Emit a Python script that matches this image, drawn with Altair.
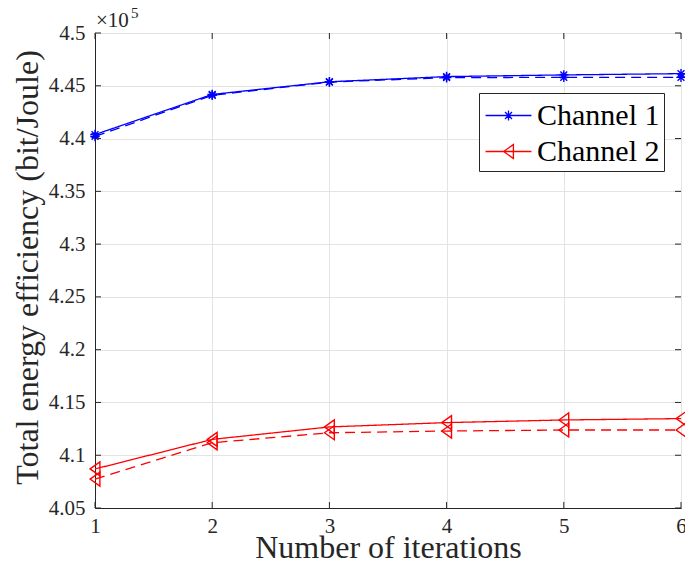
import altair as alt
import pandas as pd

# Iteration index on the x axis
iterations = [1, 2, 3, 4, 5, 6]

# Total energy efficiency (bit/Joule) per iteration
ch1_solid = [440380, 444180, 445380, 445870, 446030, 446150]
ch1_dashed = [440200, 444100, 445350, 445770, 445800, 445800]
ch2_solid = [408700, 411500, 412680, 413090, 413340, 413470]
ch2_dashed = [407740, 411180, 412130, 412290, 412390, 412390]

series_names = ["Channel 1", "Channel 2"]
series_colors = ["#0000ff", "#ff0000"]

x_ticks = [1, 2, 3, 4, 5, 6]
y_ticks = [405000, 410000, 415000, 420000, 425000, 430000,
           435000, 440000, 445000, 450000]

W, H = 586, 475
FONT = "Liberation Serif"
AXIS_COLOR = "#262626"

rows = []
for name, style, vals in [
    ("Channel 1", "solid", ch1_solid),
    ("Channel 1", "dashed", ch1_dashed),
    ("Channel 2", "solid", ch2_solid),
    ("Channel 2", "dashed", ch2_dashed),
]:
    for it, v in zip(iterations, vals):
        rows.append({"iter": it, "eff": v, "series": name, "style": style,
                     "curve": f"{name}-{style}"})
df = pd.DataFrame(rows)

x_enc = alt.X(
    "iter:Q",
    scale=alt.Scale(domain=[1, 6], nice=False, zero=False),
    axis=alt.Axis(
        values=x_ticks, title="Number of iterations", format="d",
        grid=True, gridColor="#e3e3e3", ticks=False,
        labelFont=FONT, labelFontSize=21, labelColor=AXIS_COLOR, labelPadding=7,
        titleFont=FONT, titleFontSize=32, titleFontWeight="normal",
        titleColor=AXIS_COLOR, titleBaseline="alphabetic", titleY=49,
        domainColor=AXIS_COLOR, labelFlush=False,
    ),
)
y_enc = alt.Y(
    "eff:Q",
    scale=alt.Scale(domain=[405000, 450000], nice=False, zero=False),
    axis=alt.Axis(
        values=y_ticks, title="Total energy efficiency (bit/Joule)",
        labelExpr="format(datum.value / 100000, '.3~g')",
        grid=True, gridColor="#e3e3e3", ticks=False,
        labelFont=FONT, labelFontSize=21, labelColor=AXIS_COLOR, labelPadding=10,
        titleFont=FONT, titleFontSize=32, titleFontWeight="normal",
        titleColor=AXIS_COLOR, titleBaseline="alphabetic", titleAngle=270,
        titleX=-58, titleY=234, titleAlign="center",
        domainColor=AXIS_COLOR,
    ),
)

color_scale = alt.Scale(domain=series_names, range=series_colors)

# Marker shapes: asterisk for channel 1, left-pointing triangle for channel 2
star_path = ("M-1,0L1,0M0,-1L0,1M-0.72,-0.72L0.72,0.72M-0.72,0.72L0.72,-0.72")
tri_path = "M-0.7,0L0.7,-1L0.7,1Z"

lines = alt.Chart(df).mark_line(strokeWidth=1.3).encode(
    x=x_enc,
    y=y_enc,
    color=alt.Color("series:N", scale=color_scale, legend=None),
    strokeDash=alt.StrokeDash(
        "style:N",
        scale=alt.Scale(domain=["solid", "dashed"], range=[[1, 0], [10, 6]]),
        legend=None,
    ),
    detail="curve:N",
)

points = alt.Chart(df).mark_point(filled=False, strokeWidth=1.4, opacity=1).encode(
    x="iter:Q",
    y="eff:Q",
    color=alt.Color("series:N", scale=color_scale, legend=None),
    shape=alt.Shape("series:N",
                    scale=alt.Scale(domain=series_names, range=[star_path, tri_path]),
                    legend=None),
    size=alt.Size("series:N",
                  scale=alt.Scale(domain=series_names, range=[90, 196]),
                  legend=None),
)

# Inward tick marks on all four sides of the box
tick_x = pd.DataFrame({"iter": x_ticks})
tick_y = pd.DataFrame({"eff": y_ticks})
ticks_bottom = alt.Chart(tick_x).mark_rule(color=AXIS_COLOR, strokeWidth=1).encode(
    x="iter:Q", y=alt.value(H), y2=alt.value(H - 6))
ticks_top = alt.Chart(tick_x).mark_rule(color=AXIS_COLOR, strokeWidth=1).encode(
    x="iter:Q", y=alt.value(0), y2=alt.value(6))
ticks_left = alt.Chart(tick_y).mark_rule(color=AXIS_COLOR, strokeWidth=1).encode(
    y="eff:Q", x=alt.value(0), x2=alt.value(6))
ticks_right = alt.Chart(tick_y).mark_rule(color=AXIS_COLOR, strokeWidth=1).encode(
    y="eff:Q", x=alt.value(W), x2=alt.value(W - 6))

# Exponent label above the y axis
exp_base = alt.Chart(pd.DataFrame({"t": ["×10"]})).mark_text(
    font=FONT, fontSize=21, align="left", baseline="alphabetic", color=AXIS_COLOR
).encode(x=alt.value(1), y=alt.value(-6), text="t:N")
exp_pow = alt.Chart(pd.DataFrame({"t": ["5"]})).mark_text(
    font=FONT, fontSize=15, align="left", baseline="alphabetic", color=AXIS_COLOR
).encode(x=alt.value(36), y=alt.value(-15), text="t:N")

main = alt.layer(lines, points, ticks_bottom, ticks_top, ticks_left, ticks_right,
                 exp_base, exp_pow)

# Legend entries: line segment with the series marker on it
# (symbol box is 35 px; the line reaches 23 px each side of centre)
leg_star = ("M-1.31,0L1.31,0M-0.28,0L0.28,0M0,-0.28L0,0.28"
            "M-0.2,-0.2L0.2,0.2M-0.2,0.2L0.2,-0.2")
leg_tri = "M-1.31,0L1.31,0M-0.28,0L0.28,-0.4L0.28,0.4Z"

legend_props = dict(
    title=None, orient="none", legendX=384, legendY=60,
    labelFont=FONT, labelFontSize=30, labelColor="#000000",
    symbolSize=1225, symbolStrokeWidth=1.3, symbolOpacity=1,
    fillColor="white", strokeColor=AXIS_COLOR, padding=4, rowPadding=2,
    labelOffset=10, symbolOffset=7, cornerRadius=0, labelLimit=400,
)

legend_layer = alt.Chart(df).transform_filter("false").mark_point(
    filled=False, strokeWidth=1.3
).encode(
    x="iter:Q",
    y="eff:Q",
    color=alt.Color("series:N",
                    scale=alt.Scale(domain=series_names, range=series_colors),
                    legend=alt.Legend(**legend_props)),
    shape=alt.Shape("series:N",
                    scale=alt.Scale(domain=series_names, range=[leg_star, leg_tri]),
                    legend=alt.Legend(**legend_props)),
)

chart = alt.layer(main, legend_layer).resolve_scale(
    color="independent", shape="independent"
).properties(
    width=W, height=H,
    autosize=alt.AutoSizeParams(type="none"),
    padding={"left": 95, "top": 33, "right": 4, "bottom": 55},
    background="white",
).configure(
    font=FONT
).configure_view(
    stroke=AXIS_COLOR, strokeWidth=1
)

chart.save("out.html", embed_options={"renderer": "svg", "actions": False})
